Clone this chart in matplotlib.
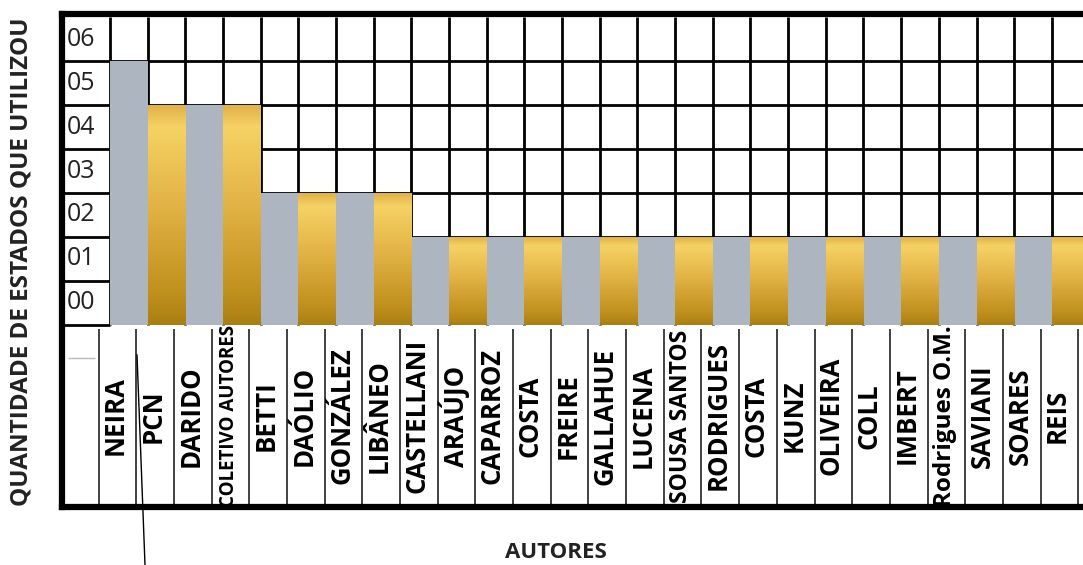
import numpy as np
import matplotlib
matplotlib.use("Agg")
import matplotlib.pyplot as plt
from matplotlib.colors import LinearSegmentedColormap

plt.rcParams['font.family'] = ['Open Sans', 'DejaVu Sans']

# data
autores = ["NEIRA", "PCN", "DARIDO", "COLETIVO AUTORES", "BETTI", "DAÓLIO",
           "GONZÁLEZ", "LIBÂNEO", "CASTELLANI", "ARAÚJO", "CAPARROZ", "COSTA",
           "FREIRE", "GALLAHUE", "LUCENA", "SOUSA SANTOS", "RODRIGUES", "COSTA",
           "KUNZ", "OLIVEIRA", "COLL", "IMBERT", "Rodrigues O.M.", "SAVIANI",
           "SOARES", "REIS"]
estados = [5, 4, 4, 4, 2, 2, 2, 2, 1, 1, 1, 1, 1, 1, 1, 1, 1, 1, 1, 1, 1, 1, 1, 1, 1, 1]
niveis = [0, 1, 2, 3, 4, 5, 6]

# labels that were typed at another size in the original
label_sizes = {"COLETIVO AUTORES": 13.5, "SOUSA SANTOS": 16.5, "Rodrigues O.M.": 17.5}

GRAY = "#ACB5C0"
gold_cmap = LinearSegmentedColormap.from_list(
    "gold", [(0.0, "#E0B24A"), (0.1, "#F6D264"), (0.45, "#E2B346"),
             (0.85, "#C1911E"), (1.0, "#A97F12")])

W, H = 1083, 565
fig = plt.figure(figsize=(W / 100, H / 100), dpi=100)
ax = fig.add_axes([62 / W, 1 - 507 / H, (1083 - 62) / W + 0.02, (507 - 14) / H])

x = np.arange(len(autores))
base = -1
x_left, x_right = -1.77, 25.9
y_low, y_top = -5.14, 6.07

# grid cells behind the bars
ax.hlines(niveis[:-1], x_left, x_right, color="black", lw=2.0, zorder=1)
ax.hlines([base], x_left, -0.5, color="black", lw=2.0, zorder=1)
ax.vlines(np.arange(len(autores) + 1) - 0.5, base, niveis[-1], color="black", lw=2.0, zorder=1)

colors = [GRAY if i % 2 == 0 else "#D9A93A" for i in x]
heights = np.array(estados) - base
bars = ax.bar(x, heights, bottom=base, width=1.0, color=colors, zorder=2)

grad = np.linspace(0, 1, 256).reshape(-1, 1)
for i, bar in enumerate(bars):
    if i % 2 == 1:
        x0, y0 = bar.get_x(), bar.get_y()
        w, h = bar.get_width(), bar.get_height()
        ax.imshow(grad, cmap=gold_cmap, origin="upper", aspect="auto",
                  extent=[x0, x0 + w, y0, y0 + h], zorder=3)

# y level labels in the left column
for v in niveis:
    ax.text(-1.64, v - 0.5, f"{v:02d}", ha="left", va="center", fontsize=18,
            color="#222222", zorder=4)

# author label boxes below the bars
ax.vlines(np.arange(len(autores) + 1) - 0.8, y_low, base - 0.1, color="#333333", lw=1.3, zorder=1)
ax.hlines([base - 0.75], -1.6, -0.9, color="#BBBBBB", lw=1, zorder=1)
for i, nome in enumerate(autores):
    ax.text(i - 0.35, -3.07, nome, rotation=90, ha="center", va="center",
            fontsize=label_sizes.get(nome, 18.5), fontweight="bold", zorder=4)

ax.set_xlim(x_left, x_right)
ax.set_ylim(y_low, y_top)
ax.set_xticks([])
ax.set_yticks([])
for side in ("left", "top", "bottom"):
    ax.spines[side].set_linewidth(4.5)
    ax.spines[side].set_color("black")
ax.spines["right"].set_visible(False)

fig.text(22 / W, 1 - 262 / H, "QUANTIDADE DE ESTADOS QUE UTILIZOU", rotation=90,
         ha="center", va="center", fontsize=17.5, fontweight="bold", color="#222222")
fig.text(556 / W, 1 - 553 / H, "AUTORES", ha="center", va="center",
         fontsize=16, fontweight="bold", color="#222222")

# stray pen stroke from the scanned original
fig.add_artist(plt.Line2D([137 / W, 145 / W], [1 - 355 / H, 0.0], color="black", lw=1))

fig.savefig("out.png", dpi=100)
